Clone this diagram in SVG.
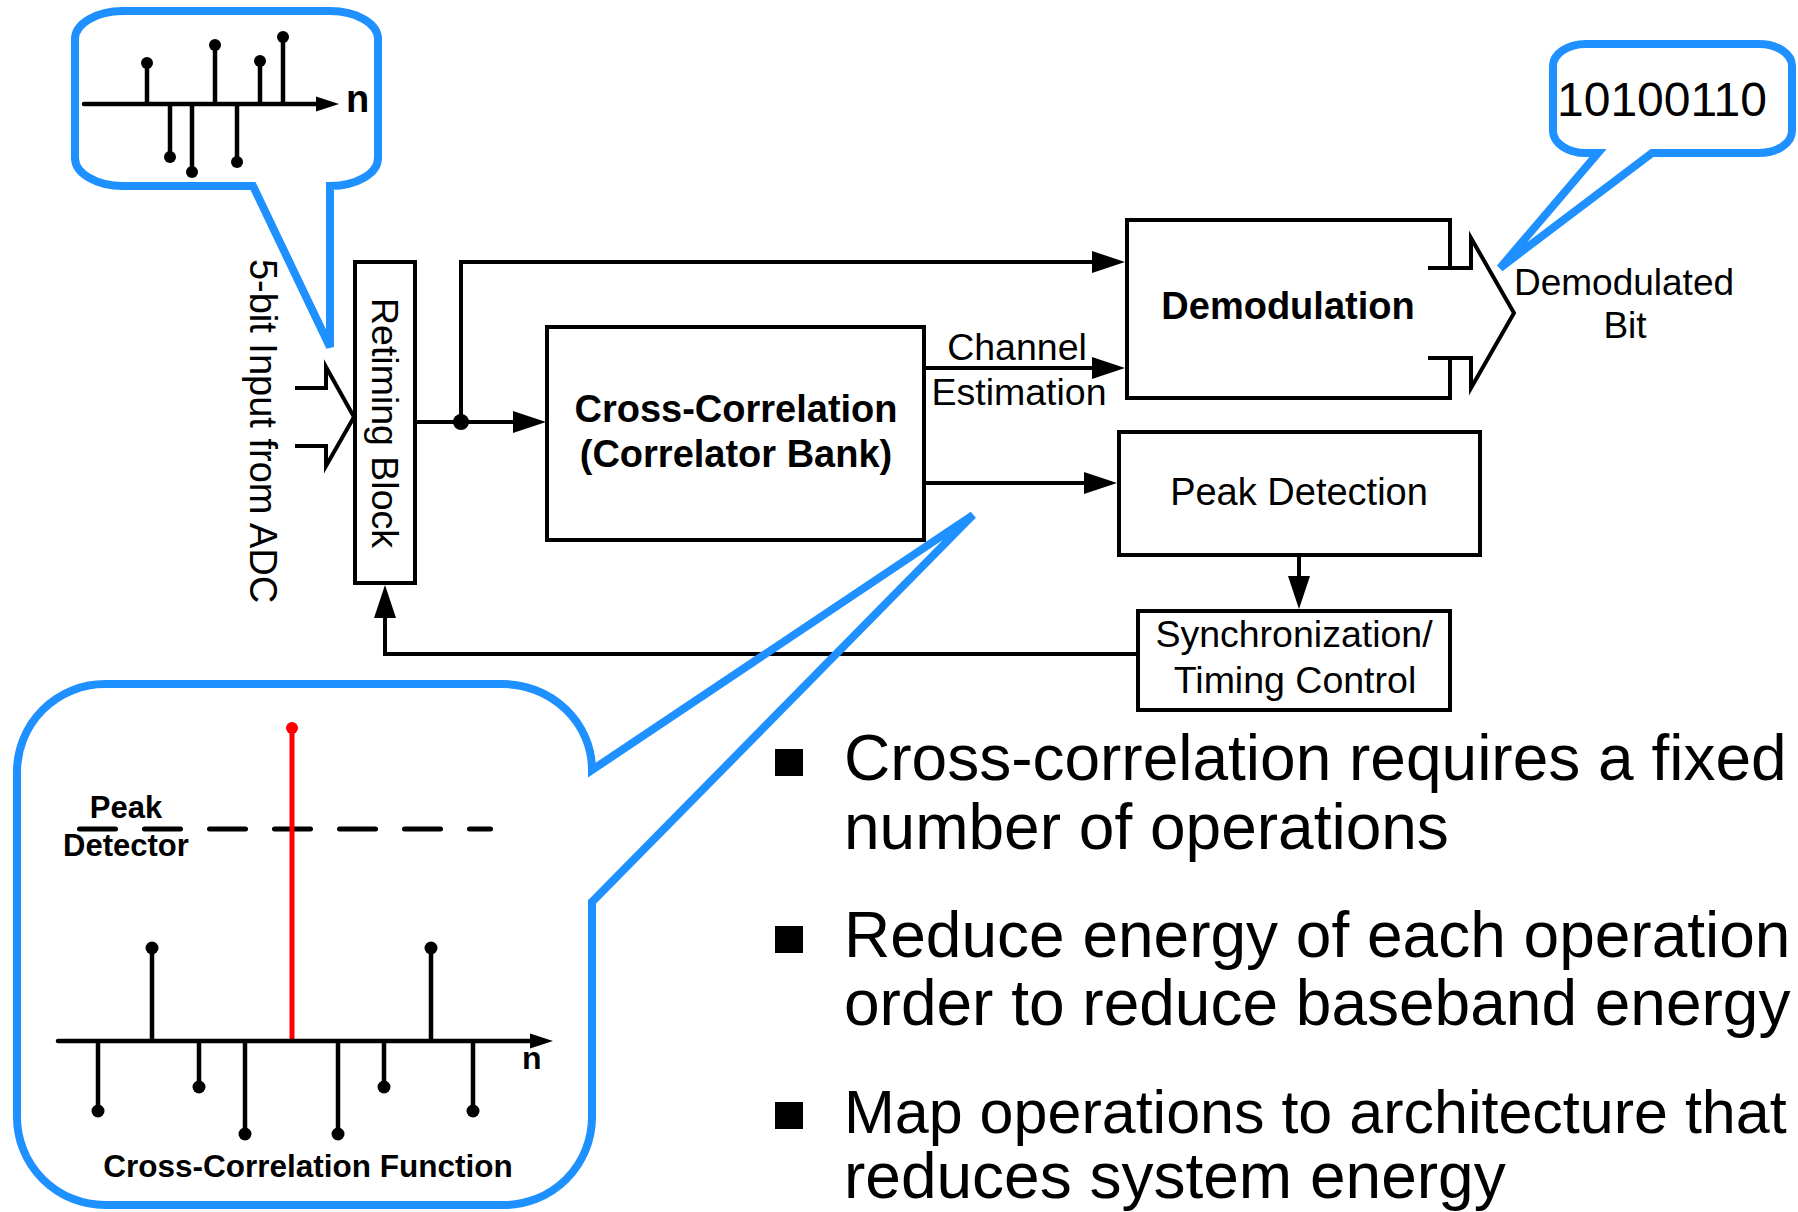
<svg xmlns="http://www.w3.org/2000/svg" width="1798" height="1212" viewBox="0 0 1798 1212">
<style>
.box{fill:none;stroke:#000;stroke-width:4;stroke-linejoin:miter}
.wire{fill:none;stroke:#000;stroke-width:4;stroke-linejoin:miter}
.bubble{fill:none;stroke:#1E90FF;stroke-width:8;stroke-linejoin:miter}
.t{font-family:"Liberation Sans",Arial,sans-serif;fill:#000}
.b{font-weight:bold}
.stem{stroke:#000;stroke-width:4.5;fill:none}
.dot{fill:#000}
</style>
<defs>
<marker id="ah" markerUnits="userSpaceOnUse" markerWidth="34" markerHeight="24" viewBox="0 0 34 24" refX="1" refY="12" orient="auto"><path d="M0,1 L33,12 L0,23 Z" fill="#000"/></marker>
<marker id="sah" markerUnits="userSpaceOnUse" markerWidth="24" markerHeight="16" viewBox="0 0 24 16" refX="1" refY="8" orient="auto"><path d="M0,0.5 L23,8 L0,15.5 Z" fill="#000"/></marker>
</defs>

<g id="connectors">
<path class="wire" d="M415,422 H514" marker-end="url(#ah)"/>
<path class="wire" d="M461,422 V262 H1093" marker-end="url(#ah)"/>
<path class="wire" d="M924,368 H1093" marker-end="url(#ah)"/>
<path class="wire" d="M924,483 H1085" marker-end="url(#ah)"/>
<path class="wire" d="M1299,555 V577" marker-end="url(#ah)"/>
<path class="wire" d="M1138,654 H385 V617" marker-end="url(#ah)"/>
<circle class="dot" cx="461" cy="422" r="8"/>
<path class="wire" d="M295,388 H326 V367 L354,417 L326,466 V446 H295"/>
<path class="wire" d="M1428,268 H1471 V238 L1514,313 L1471,388 V358 H1428"/>
</g>

<g id="retiming">
<rect class="box" x="355" y="262" width="60" height="321"/>
<text class="t" font-size="37.5" text-anchor="middle" transform="translate(372,423) rotate(90)">Retiming Block</text>
</g>

<g id="input-label">
<text class="t" font-size="38" text-anchor="middle" transform="translate(250,431) rotate(90)">5-bit Input from ADC</text>
</g>

<g id="crosscorr">
<rect class="box" x="547" y="327" width="377" height="213"/>
<text class="t b" font-size="38" text-anchor="middle" x="736" y="422">Cross-Correlation</text>
<text class="t b" font-size="38" text-anchor="middle" x="736" y="467">(Correlator Bank)</text>
</g>

<g id="channel-label">
<text class="t" font-size="37.5" text-anchor="middle" x="1017" y="360">Channel</text>
<text class="t" font-size="37.5" text-anchor="middle" x="1019" y="405">Estimation</text>
</g>

<g id="demod">
<path class="box" d="M1450,268 V220 H1127 V398 H1450 V358"/>
<text class="t b" font-size="38" text-anchor="middle" x="1288" y="319">Demodulation</text>
</g>

<g id="demod-out">
<text class="t" font-size="37" text-anchor="middle" x="1624" y="295">Demodulated</text>
<text class="t" font-size="37" text-anchor="middle" x="1625" y="338">Bit</text>
</g>

<g id="peak">
<rect class="box" x="1119" y="432" width="361" height="123"/>
<text class="t" font-size="38" text-anchor="middle" x="1299" y="505">Peak Detection</text>
</g>

<g id="sync">
<rect class="box" x="1138" y="611" width="312" height="99"/>
<text class="t" font-size="37.5" text-anchor="middle" x="1294" y="647">Synchronization/</text>
<text class="t" font-size="37.5" text-anchor="middle" x="1295" y="693">Timing Control</text>
</g>

<g id="callout-input">
<path class="bubble" d="M123,11 H330 A48,28 0 0 1 378,39 V158 A48,28 0 0 1 330,186 V347 L253,186 H123 A48,28 0 0 1 75,158 V39 A48,28 0 0 1 123,11 Z"/>
<path class="stem" d="M84,104 H317" stroke-linecap="round" marker-end="url(#sah)"/>
<path class="stem" d="M147,104 V63 M170,104 V157 M192,104 V172 M215,104 V45 M237,104 V162 M260,104 V61 M283,104 V37"/>
<g class="dot">
<circle cx="147" cy="63" r="6"/><circle cx="170" cy="157" r="6"/><circle cx="192" cy="172" r="6"/><circle cx="215" cy="45" r="6"/><circle cx="237" cy="162" r="6"/><circle cx="260" cy="61" r="6"/><circle cx="283" cy="37" r="6"/>
</g>
<text class="t b" font-size="38" x="346" y="112">n</text>
</g>

<g id="callout-bits">
<path class="bubble" d="M1588,44 H1759 A33,22 0 0 1 1792,66 V131 A33,22 0 0 1 1759,153 H1652 L1500,268 L1598,153 H1586 A33,22 0 0 1 1553,131 V66 A33,22 0 0 1 1586,44 Z"/>
<text class="t" font-size="48" text-anchor="middle" x="1662" y="116">10100110</text>
</g>

<g id="callout-xcorr">
<path class="bubble" d="M105,684 H502 A90,86 0 0 1 592,770 L973,515 L592,902 V1117 A88,88 0 0 1 504,1205 H105 A88,88 0 0 1 17,1117 V772 A88,88 0 0 1 105,684 Z"/>
<path d="M79.5,829 H490.5" stroke="#000" stroke-width="5" stroke-linecap="round" stroke-dasharray="36 29" fill="none"/>
<path d="M292,1041 V728" stroke="#FF0000" stroke-width="5" fill="none"/>
<circle cx="292" cy="728" r="6" fill="#FF0000"/>
<path class="stem" d="M58,1041 H531" stroke-width="5" stroke-linecap="round" marker-end="url(#sah)"/>
<path class="stem" stroke-width="5" d="M98,1041 V1111 M152,1041 V948 M199,1041 V1087 M245,1041 V1134 M338,1041 V1134 M384,1041 V1087 M431,1041 V948 M473,1041 V1111"/>
<g class="dot">
<circle cx="98" cy="1111" r="6.5"/><circle cx="152" cy="948" r="6.5"/><circle cx="199" cy="1087" r="6.5"/><circle cx="245" cy="1134" r="6.5"/><circle cx="338" cy="1134" r="6.5"/><circle cx="384" cy="1087" r="6.5"/><circle cx="431" cy="948" r="6.5"/><circle cx="473" cy="1111" r="6.5"/>
</g>
<text class="t b" font-size="31" text-anchor="middle" x="126" y="818">Peak</text>
<text class="t b" font-size="31" text-anchor="middle" x="126" y="856">Detector</text>
<text class="t b" font-size="32" x="522" y="1069">n</text>
<text class="t b" font-size="31.5" text-anchor="middle" x="308" y="1177">Cross-Correlation Function</text>
</g>

<g id="bullets">
<rect x="775" y="749" width="28" height="27" fill="#000"/>
<rect x="775" y="926" width="28" height="27" fill="#000"/>
<rect x="775" y="1102" width="28" height="27" fill="#000"/>
<text class="t" font-size="64" x="844" y="780">Cross-correlation requires a fixed</text>
<text class="t" font-size="64" x="844" y="849">number of operations</text>
<text class="t" font-size="64" x="844" y="957">Reduce energy of each operation</text>
<text class="t" font-size="64" x="844" y="1025">order to reduce baseband energy</text>
<text class="t" font-size="61" x="844" y="1133">Map operations to architecture that</text>
<text class="t" font-size="64" x="844" y="1198">reduces system energy</text>
</g>
</svg>
